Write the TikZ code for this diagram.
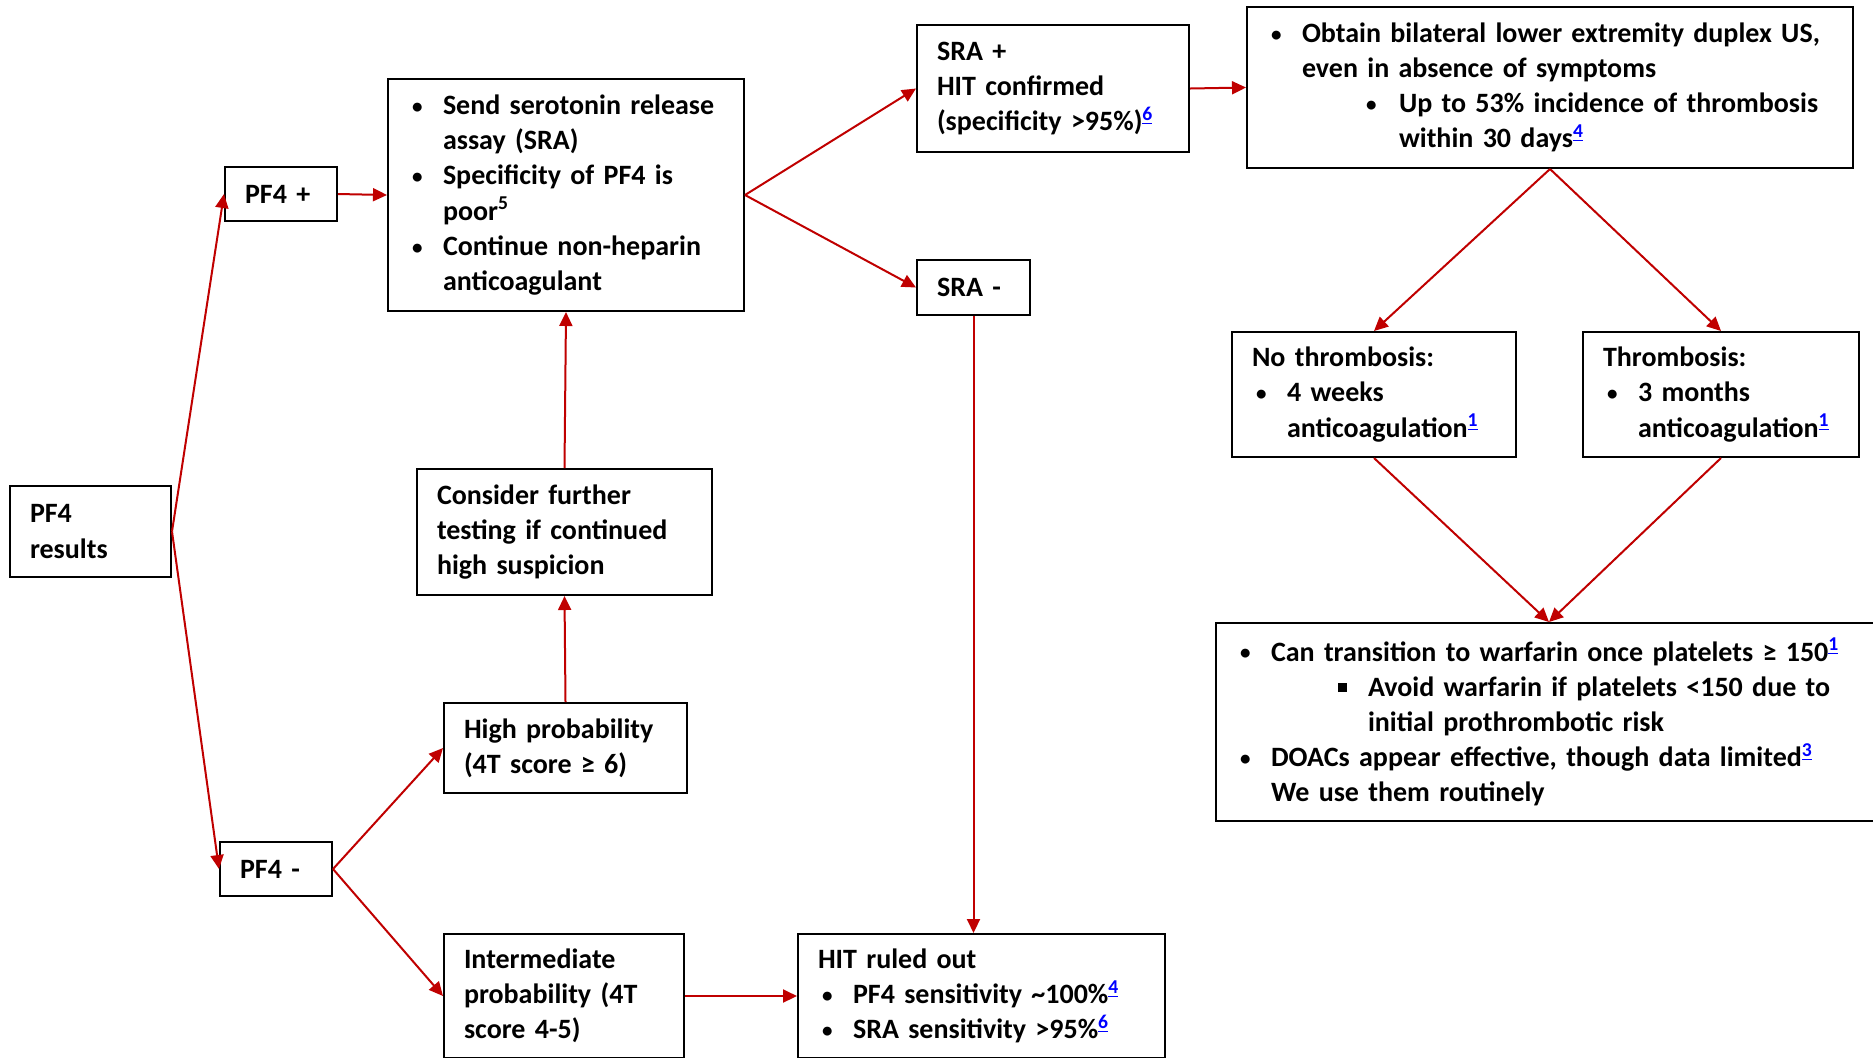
\documentclass[tikz,border=0pt]{standalone}
\usepackage{fontspec}
\setmainfont{Carlito}
\usetikzlibrary{arrows.meta,positioning}
\definecolor{arrowred}{HTML}{C00000}
\newcommand{\bdot}{\raisebox{0.6pt}{\scalebox{0.75}{\textbullet}}}
\newcommand{\bul}{\hspace*{2pt}\makebox[15.5pt][l]{\bdot}}
\newcommand{\ind}{\hspace*{17.5pt}}
\newcommand{\sqbul}{\makebox[15pt][l]{\raisebox{2pt}{\rule{4.5pt}{4.5pt}}}}
\newcommand{\fnref}[1]{\textsuperscript{\textcolor{blue}{\underline{#1}}}}
\tikzset{
flowbox/.style={rectangle,draw=black,line width=1pt,fill=white,
inner xsep=10pt,inner ysep=0pt,align=left,
font=\fontsize{14}{17.6}\selectfont\bfseries},
flowarrow/.style={draw=arrowred,line width=1pt,
-{Triangle[length=7pt,width=6.5pt]}}
}

\begin{document}
\begin{tikzpicture}[x=0.5pt,y=-0.5pt]
\clip (0,0) rectangle (1873,1057);
\fill[white] (0,0) rectangle (1873,1057);

% left column
\node [flowbox,name=PFres,text width=60.5pt,minimum height=45.5pt] at (90.5,531.5)
{PF4\\results};
\node [flowbox,name=PFpos,text width=36pt,minimum height=27pt] at (281,194) {PF4 +};
\node [flowbox,name=PFneg,text width=36pt,minimum height=27pt] at (276,869) {PF4 -};

% middle column
\node [flowbox,name=SRAsend,text width=158pt,minimum height=116pt] at (566,195)
{\bul Send serotonin release\\ \ind assay (SRA)\\
\bul Specificity of PF4 is\\ \ind poor\textsuperscript{5}\\
\bul Continue non-heparin\\ \ind anticoagulant};
\node [flowbox,name=Cons,text width=127.5pt,minimum height=63pt] at (564.5,532)
{Consider further\\testing if continued\\high suspicion};
\node [flowbox,name=High,text width=101.5pt,minimum height=45pt] at (565.5,748)
{High probability\\(4T score ≥ 6)};
\node [flowbox,name=Inter,text width=100pt,minimum height=62pt] at (564,996)
{Intermediate\\probability (4T\\score 4-5)};

% SRA results
\node [flowbox,name=SRApos,text width=116pt,minimum height=63.5pt] at (1053,88.5)
{SRA +\\HIT confirmed\\(specificity >95\%)\fnref{6}};
\node [flowbox,name=SRAneg,text width=36.5pt,minimum height=27.5pt] at (973.5,287.5) {SRA -};
\node [flowbox,name=HIT,text width=163.5pt,minimum height=62pt] at (981.5,996)
{HIT ruled out\\ \bul PF4 sensitivity \textasciitilde100\%\fnref{4}\\
\bul SRA sensitivity >95\%\fnref{6}};

% right column
\node [flowbox,name=DUS,text width=283pt,minimum height=80.5pt] at (1550,87.5)
{\bul Obtain bilateral lower extremity duplex US,\\
\ind even in absence of symptoms\\
\hspace*{49.5pt}\makebox[16.5pt][l]{\bdot}Up to 53\% incidence of thrombosis\\
\hspace*{66pt}within 30 days\fnref{4}};
\node [flowbox,name=NoThr,text width=122pt,minimum height=62.5pt] at (1374,394.5)
{No thrombosis:\\ \bul 4 weeks\\ \ind anticoagulation\fnref{1}};
\node [flowbox,name=Thr,text width=118pt,minimum height=62.5pt] at (1721,394.5)
{Thrombosis:\\ \bul 3 months\\ \ind anticoagulation\fnref{1}};
\node [flowbox,name=Warf,text width=313pt,minimum height=99pt] at (1549,722)
{\bul Can transition to warfarin once platelets ≥ 150\fnref{1}\\
\hspace*{51pt}\sqbul Avoid warfarin if platelets <150 due to\\
\hspace*{66pt}initial prothrombotic risk\\
\bul DOACs appear effective, though data limited\fnref{3}\\
\ind We use them routinely};

% connectors
\draw [flowarrow] (PFres.east) -- (PFpos.west);
\draw [flowarrow] (PFres.east) -- (PFneg.west);
\draw [flowarrow] (PFpos.east) -- (SRAsend.west);
\draw [flowarrow] (SRAsend.east) -- (SRApos.west);
\draw [flowarrow] (SRAsend.east) -- (SRAneg.west);
\draw [flowarrow] (SRApos.east) -- (DUS.west);
\draw [flowarrow] (DUS.south) -- (NoThr.north);
\draw [flowarrow] (DUS.south) -- (Thr.north);
\draw [flowarrow] (NoThr.south) -- (Warf.north);
\draw [flowarrow] (Thr.south) -- (Warf.north);
\draw [flowarrow] (SRAneg.south) -- (SRAneg.south |- HIT.north);
\draw [flowarrow] (PFneg.east) -- (High.west);
\draw [flowarrow] (PFneg.east) -- (Inter.west);
\draw [flowarrow] (Inter.east) -- (HIT.west);
\draw [flowarrow] (High.north) -- (Cons.south);
\draw [flowarrow] (Cons.north) -- (SRAsend.south);
\end{tikzpicture}
\end{document}
